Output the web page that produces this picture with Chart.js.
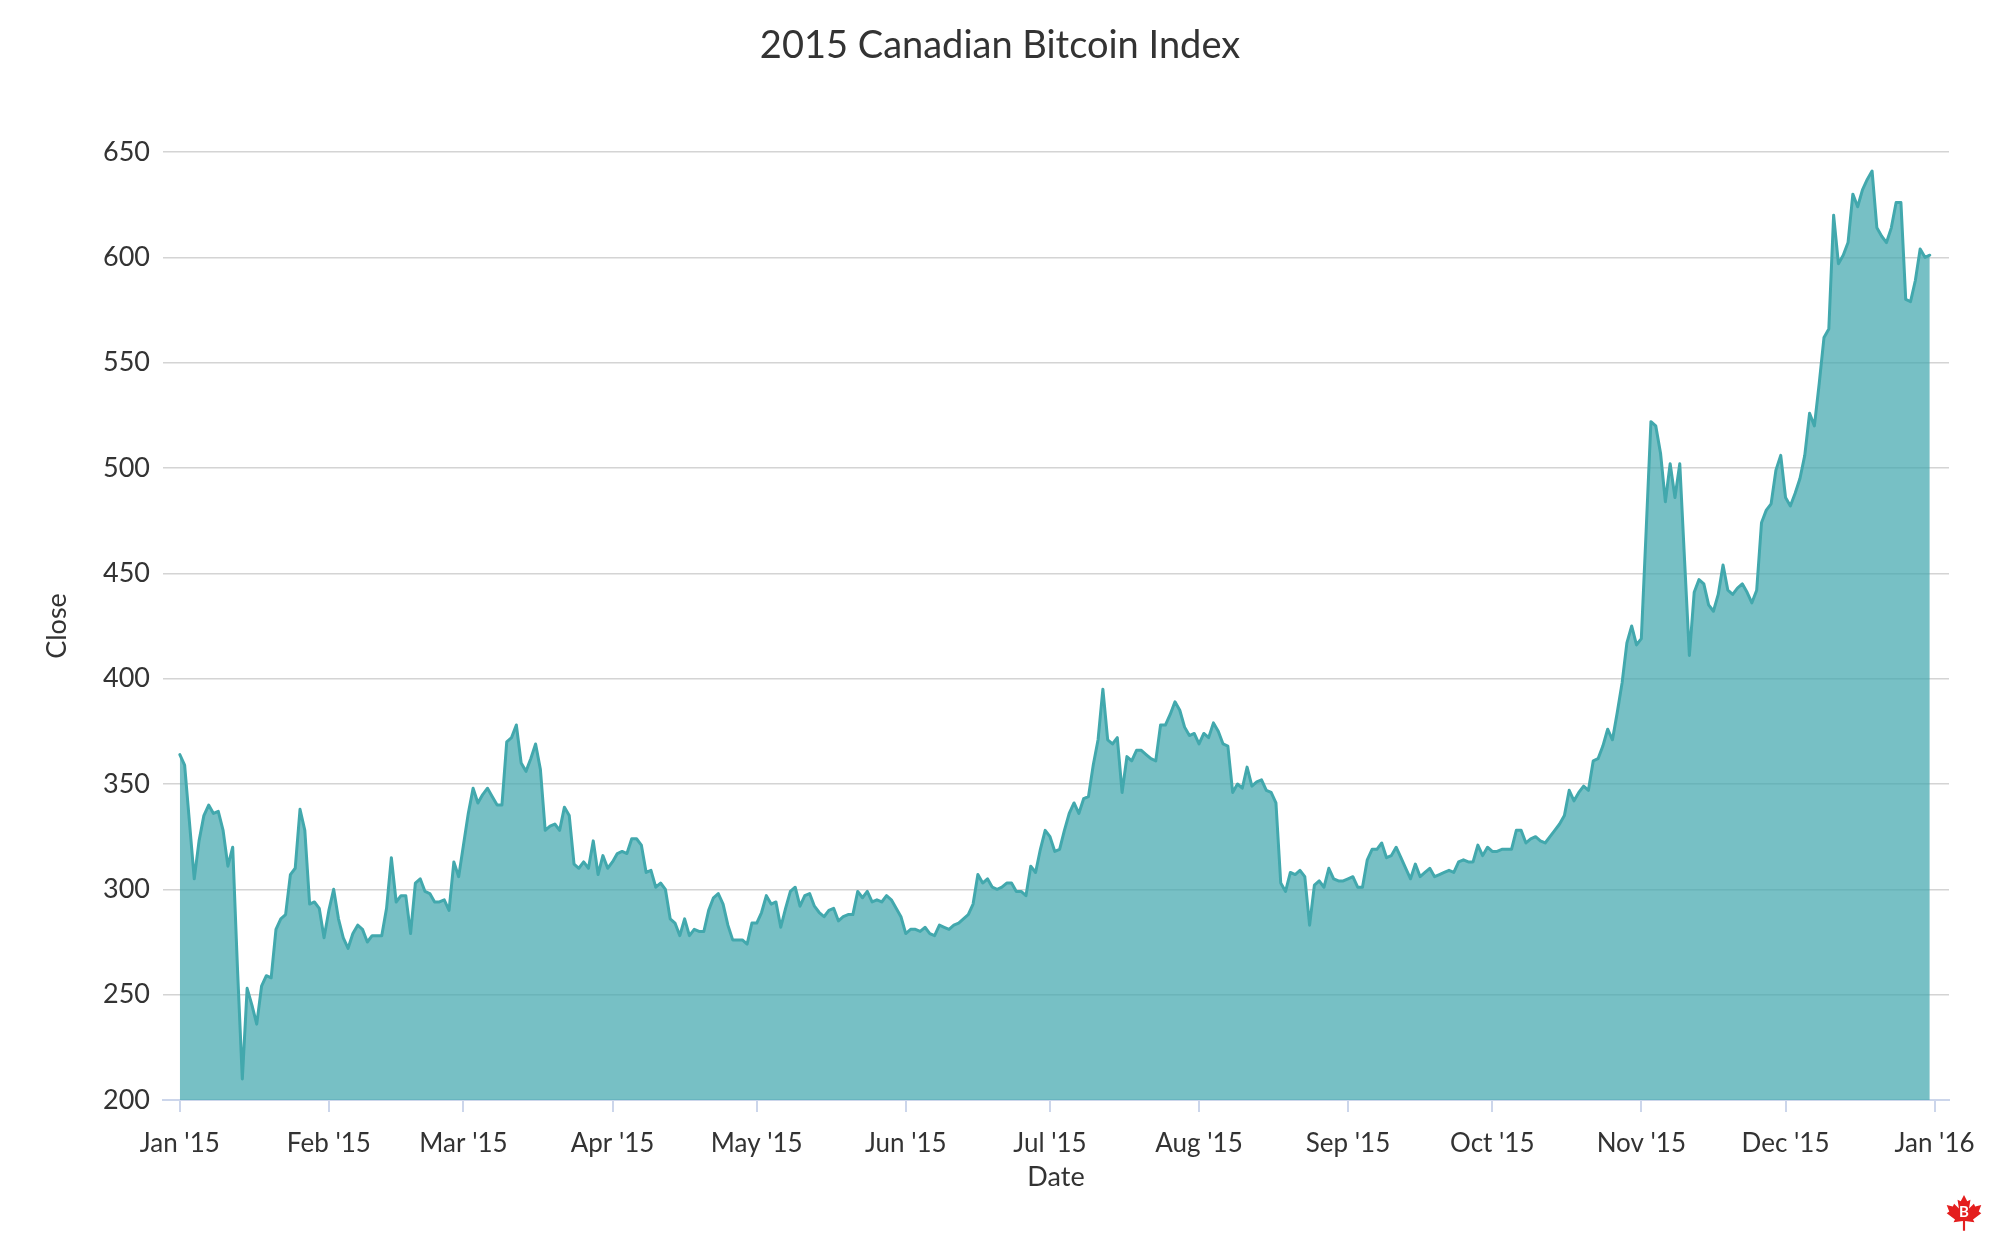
<!DOCTYPE html>
<html><head><meta charset="utf-8">
<script src="https://cdn.jsdelivr.net/npm/chart.js@4.4.0/dist/chart.umd.min.js"></script>
<style>html,body{margin:0;padding:0;background:#fff;} canvas{display:block;}</style>
</head><body>
<canvas id="c" width="2000" height="1250"></canvas>
<script>
const chartTitle = "2015 Canadian Bitcoin Index";
const xAxisTitle = "Date";
const yAxisTitle = "Close";

// Daily close values, 2015
const closeJan = [364,359,332,305,323,335,340,336,337,328,311,320,262,210,253,245,236,254,259,258,281,286,288,307,310,338,328,293,294,291,277];
const closeFeb = [290,300,286,277,272,279,283,281,275,278,278,278,291,315,294,297,297,279,303,305,299,298,294,294,295,290,313,306];
const closeMar = [321,336,348,341,345,348,344,340,340,370,372,378,360,356,362,369,357,328,330,331,328,339,335,312,310,313,310,323,307,316,310];
const closeApr = [313,317,318,317,324,324,321,308,309,301,303,300,286,284,278,286,278,281,280,280,290,296,298,293,283,276,276,276,274,284];
const closeMay = [284,289,297,293,294,282,291,299,301,292,297,298,292,289,287,290,291,285,287,288,288,299,296,299,294,295,294,297,295,291,287];
const closeJun = [279,281,281,280,282,279,278,283,282,281,283,284,286,288,293,307,303,305,301,300,301,303,303,299,299,297,311,308,319,328];
const closeJul = [325,318,319,328,336,341,336,343,344,359,371,395,371,369,372,346,363,361,366,366,364,362,361,378,378,383,389,385,377,373,374];
const closeAug = [369,374,372,379,375,369,368,346,350,348,358,349,351,352,347,346,341,303,299,308,307,309,306,283,302,304,301,310,305,304,304];
const closeSep = [305,306,301,301,314,319,319,322,315,316,320,315,310,305,312,306,308,310,306,307,308,309,308,313,314,313,313,321,316,320];
const closeOct = [318,318,319,319,319,328,328,322,324,325,323,322,325,328,331,335,347,342,346,349,347,361,362,368,376,371,384,398,417,425,416];
const closeNov = [419,470,522,520,507,484,502,486,502,456,411,441,447,445,435,432,440,454,442,440,443,445,441,436,442,474,480,483,499,506];
const closeDec = [486,482,488,495,506,526,520,540,562,566,620,597,601,607,630,624,632,637,641,614,610,607,614,626,626,580,579,589,604,600,601];

// x-axis ticks: day-of-year of each month start and its label
const monthTickDays = [0,31,59,90,120,151,181,212,243,273,304,334,365];
const monthTickLabels = ["Jan '15","Feb '15","Mar '15","Apr '15","May '15","Jun '15","Jul '15","Aug '15","Sep '15","Oct '15","Nov '15","Dec '15","Jan '16"];

// y-axis ticks
const yMin = 200, yMax = 650, yStep = 50;

const closeValues = [].concat(closeJan, closeFeb, closeMar, closeApr, closeMay, closeJun,
  closeJul, closeAug, closeSep, closeOct, closeNov, closeDec);
const points = closeValues.map((v, i) => ({x: i, y: v}));

const FONT = "Lato, 'Open Sans', 'DejaVu Sans', sans-serif";
const TEXT = '#333333';

const titlePlugin = {
  id: 'topTitle',
  afterDraw(chart) {
    const c = chart.ctx;
    c.save();
    c.fillStyle = TEXT;
    c.font = "38px " + FONT;
    c.textAlign = 'center';
    c.textBaseline = 'middle';
    c.fillText(chartTitle, chart.width / 2, 46);
    c.restore();
  }
};

const logoPlugin = {
  id: 'logo',
  afterDraw(chart) {
    const c = chart.ctx;
    const cx = 1964, cy = 1213, r = 18;
    const leaf = [[0,-1],[0.18,-0.65],[0.36,-0.74],[0.28,-0.25],[0.55,-0.52],[0.62,-0.36],[0.96,-0.44],[0.82,-0.08],[0.96,0.02],[0.5,0.36],[0.58,0.52],[0.06,0.44],[0.06,0.98],[-0.06,0.98],[-0.06,0.44],[-0.58,0.52],[-0.5,0.36],[-0.96,0.02],[-0.82,-0.08],[-0.96,-0.44],[-0.62,-0.36],[-0.55,-0.52],[-0.28,-0.25],[-0.36,-0.74],[-0.18,-0.65]];
    c.save();
    c.fillStyle = '#e41e1e';
    c.beginPath();
    leaf.forEach((p, i) => { const X = cx + p[0]*r, Y = cy + p[1]*r; i ? c.lineTo(X, Y) : c.moveTo(X, Y); });
    c.closePath();
    c.fill();
    c.fillStyle = '#ffffff';
    c.font = "bold 15px " + FONT;
    c.textAlign = 'center';
    c.textBaseline = 'middle';
    c.fillText('B', cx, cy - 1);
    c.restore();
  }
};

new Chart(document.getElementById('c').getContext('2d'), {
  type: 'line',
  data: {
    datasets: [{
      data: points,
      borderColor: '#42a8ad',
      backgroundColor: 'rgba(66,168,174,0.72)',
      borderWidth: 3,
      pointRadius: 0,
      fill: 'start',
      tension: 0,
      borderJoinStyle: 'round',
      borderCapStyle: 'round'
    }]
  },
  options: {
    responsive: false,
    animation: false,
    devicePixelRatio: 1,
    layout: {padding: {top: 152, right: 51, bottom: 0, left: 0}},
    plugins: {legend: {display: false}, tooltip: {enabled: false}, title: {display: false}},
    scales: {
      x: {
        type: 'linear',
        min: -3.5,
        max: 368,
        afterBuildTicks: s => { s.ticks = monthTickDays.map(v => ({value: v})); },
        afterFit: s => { s.height = 150; },
        ticks: {
          autoSkip: false, maxRotation: 0, padding: 16, color: TEXT,
          font: {family: FONT, size: 26},
          callback: v => { const k = monthTickDays.indexOf(v); return k >= 0 ? monthTickLabels[k] : ''; }
        },
        grid: {display: true, drawOnChartArea: false, drawTicks: true, tickLength: 12, color: '#ccd6eb', lineWidth: 2},
        border: {display: true, color: '#ccd6eb', width: 2},
        title: {display: true, text: xAxisTitle, color: TEXT, font: {family: FONT, size: 27}, padding: {top: 0, bottom: 57}}
      },
      y: {
        min: yMin,
        max: yMax,
        afterFit: s => { s.width = 163; },
        ticks: {stepSize: yStep, padding: 13, color: TEXT, font: {family: FONT, size: 27}},
        grid: {color: '#d4d4d4', lineWidth: 1.5, drawTicks: false},
        border: {display: false},
        title: {display: true, text: yAxisTitle, color: TEXT, font: {family: FONT, size: 27}, padding: {top: 41, bottom: 0}}
      }
    }
  },
  plugins: [titlePlugin, logoPlugin]
});
</script>
</body></html>
